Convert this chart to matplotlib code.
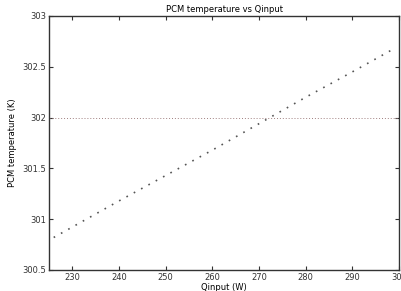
import numpy as np
import matplotlib
matplotlib.use('Agg')
import matplotlib.pyplot as plt

# values
qinput = [226, 240, 250, 260, 270, 280, 290, 299]
t_pcm  = [300.82, 301.18, 301.43, 301.68, 301.94, 302.20, 302.45, 302.68]
t_melt = 302.0

xticks = [230, 240, 250, 260, 270, 280, 290, 300]
yticks = [300.5, 301, 301.5, 302, 302.5, 303]

fig = plt.figure(figsize=(4.01, 2.91), dpi=100)
ax = fig.add_axes([49/401, 21/291, 350/401, 254/291])

ax.plot(qinput, t_pcm, color='#555555', linestyle=(0, (1, 4)), linewidth=1.2)
ax.axhline(t_melt, color='#a08080', linestyle=(0, (1, 2)), linewidth=0.7)

ax.set_xlim(225, 300)
ax.set_ylim(300.5, 303)
ax.set_xticks(xticks)
ax.set_yticks(yticks)
ax.set_yticklabels(['300.5', '301', '301.5', '302', '302.5', '303'])
ax.tick_params(direction='in', length=3, width=0.8, labelsize=6,
               top=True, right=True, pad=2, colors='#333333')
for s in ax.spines.values():
    s.set_linewidth(1.0)
    s.set_color('#333333')

ax.set_title('PCM temperature vs Qinput', fontsize=6, pad=3)
ax.set_xlabel('Qinput (W)', fontsize=6, labelpad=1)
ax.set_ylabel('PCM temperature (K)', fontsize=6, labelpad=4)

fig.savefig('out.png', dpi=100)
